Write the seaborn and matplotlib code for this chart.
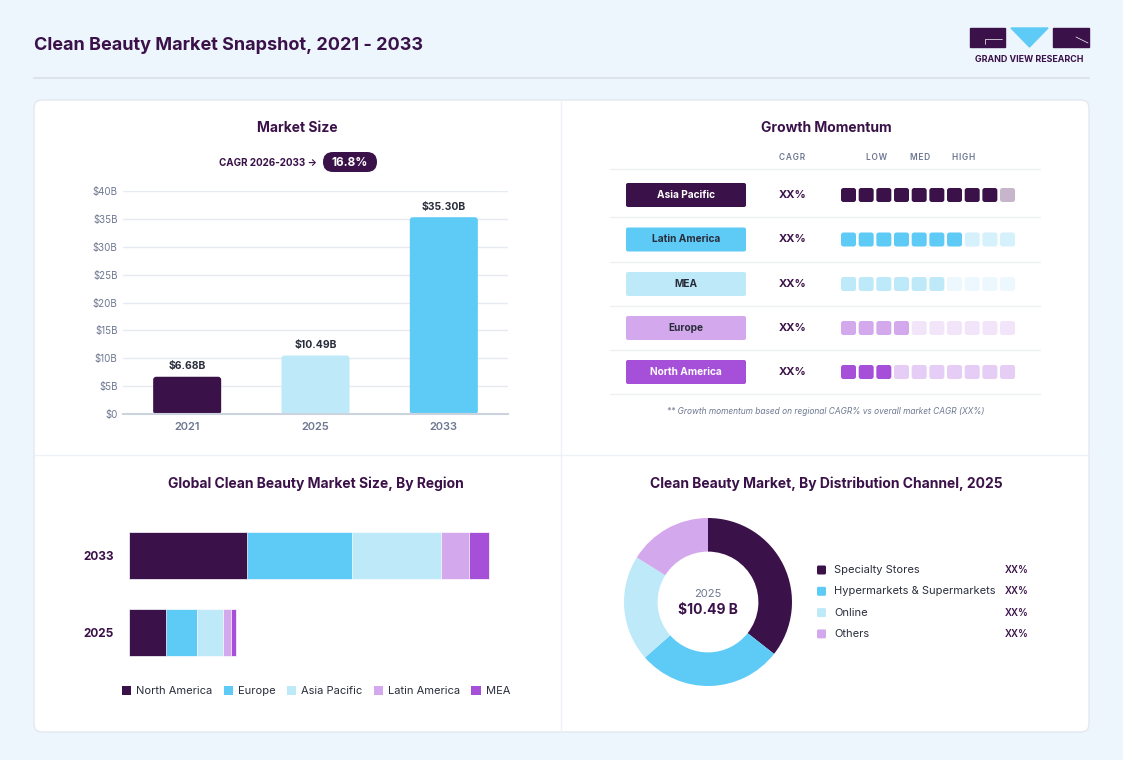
import numpy as np
import pandas as pd
import seaborn as sns
import matplotlib.pyplot as plt
from matplotlib.patches import FancyBboxPatch, Polygon, Patch

# ---- data ----
years = ['2021', '2025', '2033']
market_size = [6.68, 10.49, 35.30]
cagr_text = '16.8%'

gm_regions = ['Asia Pacific', 'Latin America', 'MEA', 'Europe', 'North America']
gm_levels = [9, 7, 6, 4, 3]
gm_cagr = ['XX%', 'XX%', 'XX%', 'XX%', 'XX%']

region_years = ['2033', '2025']
regions = ['North America', 'Europe', 'Asia Pacific', 'Latin America', 'MEA']
region_2033 = [11.61, 10.24, 8.77, 2.78, 1.90]
region_2025 = [3.65, 3.06, 2.47, 0.79, 0.52]

channels = ['Specialty Stores', 'Hypermarkets & Supermarkets', 'Online', 'Others']
channel_share = [35.6, 27.9, 20.4, 16.1]
channel_pct = ['XX%', 'XX%', 'XX%', 'XX%']

# ---- colours ----
DARK = '#3A1148'
CYAN = '#5DCBF6'
LIGHT = '#BDE9F9'
LAV = '#D4A8EC'
PURP = '#A64FD8'
GRAY = '#6E7891'
TXT = '#2A2E3C'

region_colors = [DARK, CYAN, LIGHT, LAV, PURP]
gm_on = [DARK, CYAN, LIGHT, LAV, PURP]
gm_off = ['#C6B5CB', '#D4F1FC', '#EDF8FE', '#F2E5FA', '#E6CDF5']
gm_txt = ['white', TXT, TXT, TXT, 'white']
channel_colors = [DARK, CYAN, LIGHT, LAV]

W, H = 1123, 760


def box(l, t, w, h):
    return [l / W, 1 - (t + h) / H, w / W, h / H]


def rbox(ax, x, y, w, h, r, color, ec='none', lw=0, z=1):
    ax.add_patch(FancyBboxPatch((x, y), w, h, boxstyle=f'round,pad=0,rounding_size={r}',
                                fc=color, ec=ec, lw=lw, zorder=z))


sns.set_theme(style='white')
plt.rcParams['font.family'] = ['Inter', 'DejaVu Sans']

fig = plt.figure(figsize=(W / 100, H / 100), dpi=100)
fig.patch.set_facecolor('#EEF6FD')

bg = fig.add_axes([0, 0, 1, 1])
bg.set_xlim(0, W)
bg.set_ylim(H, 0)
bg.axis('off')
bg.set_zorder(-1)

# header
bg.text(34, 45, 'Clean Beauty Market Snapshot, 2021 - 2033', fontsize=13, fontweight='bold',
        color=DARK, va='center', ha='left')
bg.plot([34, 1089], [78, 78], color='#DCE3EC', lw=1.5)

# logo
bg.add_patch(plt.Rectangle((970, 28), 35, 19, color=DARK))
bg.plot([985, 985, 1002], [44, 39, 39], color='white', lw=0.5)
bg.add_patch(Polygon([(1011, 28), (1048, 28), (1029.5, 47)], closed=True, color=CYAN))
bg.add_patch(plt.Rectangle((1053, 28), 36, 19, color=DARK))
bg.plot([1076, 1088], [37, 43], color='white', lw=0.5)
bg.text(1029.5, 59, 'GRAND VIEW RESEARCH', fontsize=6.4, fontweight='bold', color=DARK,
        ha='center', va='center')

# card
rbox(bg, 34, 100, 1055, 632, 8, 'white', ec='#E3E8EF', lw=1)
bg.plot([561, 561], [100, 732], color='#EEF1F5', lw=1)
bg.plot([34, 1089], [455, 455], color='#EEF1F5', lw=1)

# ---- panel 1: market size ----
bg.text(297, 128, 'Market Size', fontsize=10, fontweight='bold', color=DARK, ha='center', va='center')
bg.text(317, 163, 'CAGR 2026-2033 \u2192', fontsize=7.1, fontweight='bold', color=DARK, ha='right', va='center')
rbox(bg, 323, 152, 54, 20, 10, DARK)
bg.text(350, 162.5, cagr_text, fontsize=8.5, fontweight='bold', color='white', ha='center', va='center')

ax1 = fig.add_axes(box(123, 191, 385, 223))
df1 = pd.DataFrame({'year': years, 'size': market_size})
sns.barplot(data=df1, x='year', y='size', hue='year', palette=[DARK, LIGHT, CYAN],
            width=0.53, saturation=1, legend=False, ax=ax1)
ax1.set_ylim(0, 40)
ax1.set_xlim(-0.5, 2.5)
# round the bar corners (3 px)
px_x = 385 / 3.0
px_y = 223 / 40.0
for p in list(ax1.patches):
    x, y, w, h = p.get_x(), p.get_y(), p.get_width(), p.get_height()
    fc = p.get_facecolor()
    p.set_visible(False)
    ax1.add_patch(FancyBboxPatch((x, y), w, h, boxstyle=f'round,pad=0,rounding_size={3 / px_x}',
                                 mutation_aspect=px_x / px_y, fc=fc, ec='none', zorder=2))
for cont, v in zip(ax1.containers, market_size):
    ax1.bar_label(cont, labels=[f'${v:.2f}B'], padding=4, fontsize=7.5, fontweight='bold', color=TXT)
ax1.set_yticks(range(0, 41, 5))
ax1.set_yticklabels(['$0'] + [f'${v}B' for v in range(5, 41, 5)])
ax1.yaxis.grid(True, color='#E6EAF1', lw=1)
ax1.set_axisbelow(True)
for s in ['top', 'right', 'left']:
    ax1.spines[s].set_visible(False)
ax1.spines['bottom'].set_color('#CDD3DE')
ax1.spines['bottom'].set_linewidth(1.5)
ax1.spines['bottom'].set_zorder(3)
ax1.tick_params(axis='y', length=0, pad=4, labelsize=7, labelcolor=GRAY)
ax1.tick_params(axis='x', length=0, pad=5.5, labelsize=8, labelcolor=GRAY)
for t in ax1.get_xticklabels():
    t.set_fontweight('semibold')
ax1.set_xlabel('')
ax1.set_ylabel('')
ax1.patch.set_alpha(0)

# ---- panel 2: growth momentum ----
bg.text(826, 128, 'Growth Momentum', fontsize=10, fontweight='bold', color=DARK, ha='center', va='center')
for lbl, xx in zip(['CAGR', 'LOW', 'MED', 'HIGH'], [792, 877, 920, 964]):
    bg.text(xx, 157, '\u200a'.join(lbl), fontsize=6, fontweight='semibold', color=GRAY, ha='center', va='center')
row_y = [195, 239.5, 284, 328, 372]
for yy in [169, 217, 261.5, 306, 350, 394]:
    bg.plot([610, 1040], [yy, yy], color='#EEF0F4', lw=1)
for i, (reg, lev, cg) in enumerate(zip(gm_regions, gm_levels, gm_cagr)):
    yc = row_y[i]
    rbox(bg, 626, yc - 12, 120, 24, 2, gm_on[i], z=2)
    bg.text(686, yc, reg, fontsize=7.3, fontweight='bold', color=gm_txt[i], ha='center', va='center', zorder=3)
    bg.text(793, yc, cg, fontsize=8, fontweight='bold', color=DARK, ha='center', va='center')
    for k in range(10):
        col = gm_on[i] if k < lev else gm_off[i]
        rbox(bg, 841 + k * 17.67, yc - 7, 15, 14, 2.5, col, z=2)
bg.text(826, 411, '** Growth momentum based on regional CAGR% vs overall market CAGR (XX%)',
        fontsize=6, style='italic', color=GRAY, ha='center', va='center')

# ---- panel 3: region stacked bars ----
bg.text(316, 484, 'Global Clean Beauty Market Size, By Region', fontsize=10, fontweight='bold',
        color=DARK, ha='center', va='center')
ax3 = fig.add_axes(box(129, 517, 411, 154))
cum = np.cumsum(np.array([region_2033, region_2025]), axis=1)
for i in reversed(range(len(regions))):
    sns.barplot(x=cum[:, i], y=region_years, color=region_colors[i], orient='h', width=0.61,
                saturation=1, edgecolor='white', linewidth=0.5, ax=ax3)
ax3.set_xlim(0, 40.33)
ax3.set_ylim(1.5, -0.5)
ax3.set_xticks([])
for s in ax3.spines.values():
    s.set_visible(False)
ax3.tick_params(axis='y', length=0, pad=11, labelsize=8.5, labelcolor=DARK)
for t in ax3.get_yticklabels():
    t.set_fontweight('bold')
ax3.set_xlabel('')
ax3.set_ylabel('')
ax3.patch.set_alpha(0)
handles = [Patch(facecolor=c, edgecolor='none') for c in region_colors]
fig.legend(handles, regions, loc='center', bbox_to_anchor=(316 / W, 1 - 691 / H), ncol=5,
           frameon=False, handlelength=0.85, handleheight=0.85, handletextpad=0.45,
           columnspacing=1.0, fontsize=8, labelcolor=TXT)

# ---- panel 4: donut ----
bg.text(826, 484, 'Clean Beauty Market, By Distribution Channel, 2025', fontsize=10, fontweight='bold',
        color=DARK, ha='center', va='center')
ax4 = fig.add_axes(box(623, 517, 170, 170))
ax4.pie(channel_share, colors=channel_colors, startangle=90, counterclock=False, radius=1,
        wedgeprops=dict(width=0.4, edgecolor='none'))
ax4.set_xlim(-1.012, 1.012)
ax4.set_ylim(-1.012, 1.012)
ax4.text(0, 0.09, '2025', fontsize=8, color=GRAY, ha='center', va='center')
ax4.text(0, -0.09, '$10.49 B', fontsize=10, fontweight='bold', color=DARK, ha='center', va='center')
for i, (ch, pc) in enumerate(zip(channels, channel_pct)):
    yy = 570 + i * 21.3
    rbox(bg, 817, yy - 4.5, 9, 9, 1.5, channel_colors[i], z=2)
    bg.text(834, yy, ch, fontsize=8, color=TXT, ha='left', va='center')
    bg.text(1005, yy, pc, fontsize=7, fontweight='semibold', color=DARK, ha='left', va='center')

fig.savefig('out.png', dpi=100, facecolor=fig.get_facecolor())
